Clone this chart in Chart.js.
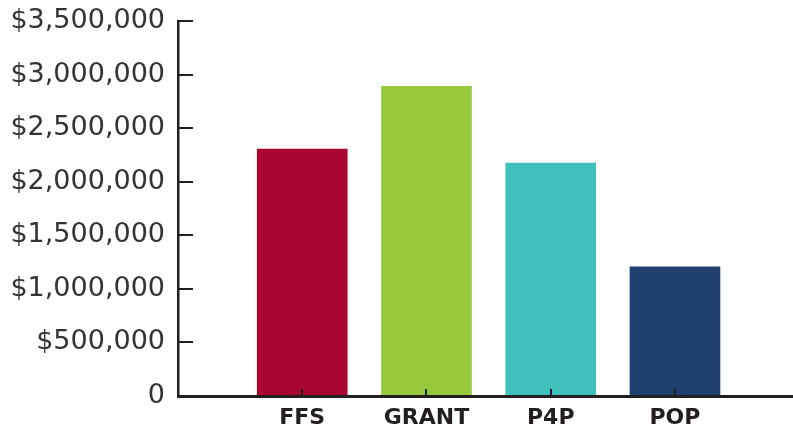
<!DOCTYPE html>
<html>
<head>
<meta charset="utf-8">
<script src="https://cdn.jsdelivr.net/npm/chart.js@4.4.1/dist/chart.umd.min.js"></script>
<style>
  html, body { margin: 0; padding: 0; background: #fff; }
  #wrap { width: 793px; height: 432px; }
</style>
</head>
<body>
<div id="wrap"><canvas id="chart"></canvas></div>
<script>
// chart data
const categories = ['FFS', 'GRANT', 'P4P', 'POP'];
const amounts = [2305000, 2890000, 2175000, 1205000];
const barColors = ['#ab0534', '#97c93d', '#40c1bd', '#1f3f6e'];
const yTicks = [0, 500000, 1000000, 1500000, 2000000, 2500000, 3000000, 3500000];

const ink = '#231f20';

function money(v) {
  if (v === 0) return '0';
  return '$' + v.toLocaleString('en-US');
}

const ctx = document.getElementById('chart').getContext('2d');
new Chart(ctx, {
  type: 'bar',
  data: {
    datasets: [
      {
        data: categories.map((c, i) => ({ x: i + 1, y: amounts[i] })),
        backgroundColor: barColors,
        barThickness: 90,
        borderWidth: 0,
      },
    ],
  },
  options: {
    responsive: true,
    maintainAspectRatio: false,
    animation: false,
    layout: { padding: 0 },
    plugins: {
      legend: { display: false },
      tooltip: { enabled: false },
    },
    scales: {
      x: {
        type: 'linear',
        min: 0,
        max: 4.95,
        offset: false,
        afterBuildTicks: (scale) => {
          scale.ticks = categories.map((c, i) => ({ value: i + 1 }));
        },
        afterFit: (scale) => { scale.height = 36; },
        grid: {
          offset: false,
          z: 1, // small tick marks sit on top of the bars
          drawOnChartArea: false,
          drawTicks: true,
          tickLength: -7,
          color: ink,
          lineWidth: 2,
        },
        border: { display: true, color: ink, width: 3, z: 1 },
        ticks: {
          padding: 16,
          color: ink,
          font: { family: 'DejaVu Sans', size: 22, weight: 'bold' },
          callback: (v) => categories[v - 1] || '',
        },
      },
      y: {
        min: 0,
        max: 3500000,
        afterBuildTicks: (scale) => {
          scale.ticks = yTicks.map((v) => ({ value: v }));
        },
        afterFit: (scale) => {
          scale.width = 178;
          // tick padding is used to push labels left, not to pad the top
          scale.paddingTop = 21;
          scale.paddingBottom = 0;
        },
        grid: {
          drawOnChartArea: false,
          drawTicks: true,
          tickLength: -15,
          color: ink,
          lineWidth: 2,
        },
        border: { display: true, color: ink, width: 2.5, z: 1 },
        ticks: {
          padding: 28,
          color: '#333',
          font: { family: 'DejaVu Sans', size: 27 },
          callback: (v) => money(v),
        },
      },
    },
  },
});
</script>
</body>
</html>
